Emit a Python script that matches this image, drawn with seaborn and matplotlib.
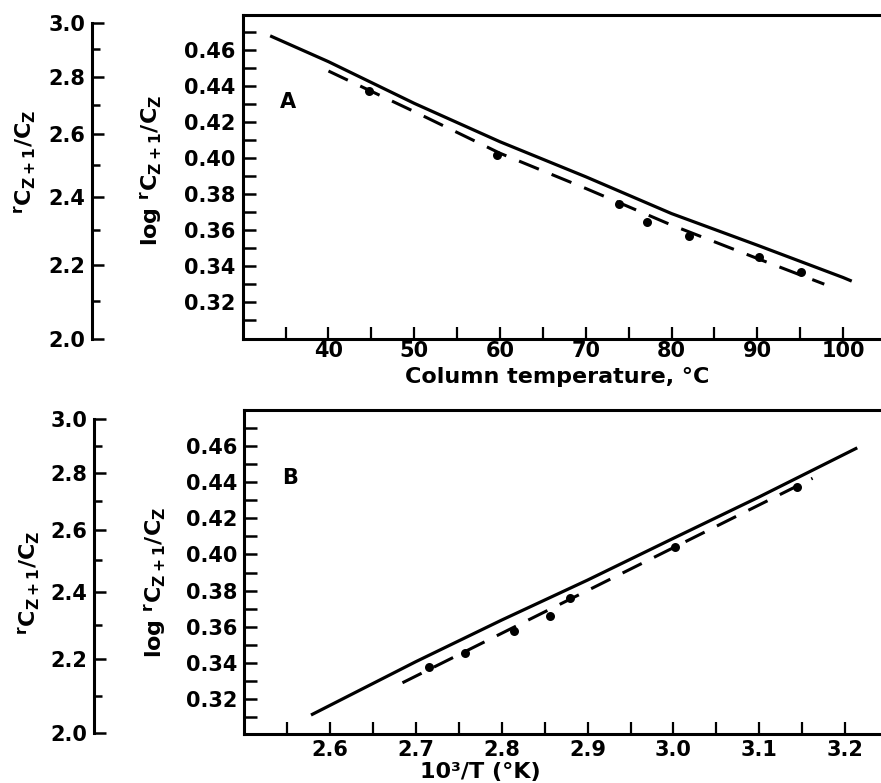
import matplotlib
matplotlib.use("Agg")
import matplotlib.pyplot as plt
from matplotlib.ticker import FixedLocator, FormatStrFormatter, NullFormatter
import seaborn as sns

# ---- Panel A: log r versus column temperature (deg C) ----
temp_curve = [33.2, 40, 50, 60, 70, 80, 90, 100, 101.0]
log_r_curve_a = [0.468, 0.4536, 0.4304, 0.409, 0.3895, 0.369, 0.3514, 0.3334, 0.3314]
temp_fit = [40.0, 50, 60, 70, 80, 90, 97.8]
log_r_fit_a = [0.4484, 0.4258, 0.4026, 0.383, 0.3626, 0.344, 0.3297]
temp_obs = [44.7, 59.7, 73.9, 77.1, 82.0, 90.2, 95.1]
log_r_obs_a = [0.4374, 0.4016, 0.3743, 0.3644, 0.3565, 0.3446, 0.3366]

# ---- Panel B: log r versus 10^3/T (K) ----
inv_t_curve = [2.578, 2.7, 2.8, 2.9, 3.0, 3.1, 3.214]
log_r_curve_b = [0.3109, 0.3405, 0.3636, 0.3858, 0.409, 0.432, 0.4592]
inv_t_fit = [2.6845, 3.162]
log_r_fit_b = [0.3288, 0.4423]
inv_t_obs = [2.7156, 2.7575, 2.8146, 2.8561, 2.8798, 3.002, 3.1433]
log_r_obs_b = [0.3377, 0.3451, 0.3575, 0.3658, 0.3757, 0.4043, 0.4373]

# ---- Axis ticks ----
log_major = [0.32, 0.34, 0.36, 0.38, 0.40, 0.42, 0.44, 0.46]
log_minor = [0.31, 0.33, 0.35, 0.37, 0.39, 0.41, 0.43, 0.45, 0.47]
r_major = [2.0, 2.2, 2.4, 2.6, 2.8, 3.0]
r_minor = [2.1, 2.3, 2.5, 2.7, 2.9]
temp_major = [40, 50, 60, 70, 80, 90, 100]
temp_minor = [35, 45, 55, 65, 75, 85, 95, 105]
inv_t_major = [2.6, 2.7, 2.8, 2.9, 3.0, 3.1, 3.2]
inv_t_minor = [2.55, 2.65, 2.75, 2.85, 2.95, 3.05, 3.15, 3.25]

ratio_label = r"${}^{r}C_{Z+1}/C_{Z}$"
log_ratio_label = r"log ${}^{r}C_{Z+1}/C_{Z}$"

TICK_FS = 15
LABEL_FS = 16

sns.set_theme(style="ticks")
plt.rcParams.update({
    "font.family": ["DejaVu Sans"],
    "font.weight": "bold",
    "font.size": TICK_FS,
    "text.color": "black",
    "axes.labelcolor": "black",
    "axes.labelweight": "bold",
    "xtick.color": "black",
    "ytick.color": "black",
    "mathtext.fontset": "custom",
    "mathtext.rm": "DejaVu Sans:bold",
    "mathtext.it": "DejaVu Sans:bold",
    "mathtext.bf": "DejaVu Sans:bold",
    "mathtext.default": "rm",
    "axes.linewidth": 2.2,
})

W, H = 881, 783
fig = plt.figure(figsize=(W / 100, H / 100), dpi=100)
fig.patch.set_facecolor("white")


def frac_box(left, top, width, height):
    """Axes rectangle from pixel geometry measured from the top-left corner."""
    return [left / W, (H - top - height) / H, width / W, height / H]


def inches(xpx, ypx):
    return xpx / 100, (H - ypx) / 100


def style_main(ax, xlim, ylim, xmaj, xmin, xfmt, xpad):
    ax.set_xlim(*xlim)
    ax.set_ylim(*ylim)
    ax.set_facecolor("white")
    ax.spines["right"].set_visible(False)
    for s in ("left", "bottom", "top"):
        ax.spines[s].set_linewidth(2.2)
        ax.spines[s].set_color("black")
    ax.yaxis.set_major_locator(FixedLocator(log_major))
    ax.yaxis.set_minor_locator(FixedLocator(log_minor))
    ax.yaxis.set_major_formatter(FormatStrFormatter("%.2f"))
    ax.yaxis.set_minor_formatter(NullFormatter())
    ax.xaxis.set_major_locator(FixedLocator(xmaj))
    ax.xaxis.set_minor_locator(FixedLocator(xmin))
    ax.xaxis.set_major_formatter(FormatStrFormatter(xfmt))
    ax.xaxis.set_minor_formatter(NullFormatter())
    ax.tick_params(axis="y", which="both", direction="in", length=9.5,
                   width=1.8, pad=5.0, colors="black", labelsize=TICK_FS)
    ax.tick_params(axis="x", which="both", direction="in", length=9,
                   width=1.6, pad=xpad, colors="black", labelsize=TICK_FS)
    ax.tick_params(top=False, right=False, which="both")
    ax.grid(False)


def style_ratio(ax):
    ax.set_yscale("log")
    ax.set_ylim(2.0, 3.0)
    ax.patch.set_visible(False)
    for s in ("right", "bottom", "top"):
        ax.spines[s].set_visible(False)
    ax.spines["left"].set_linewidth(2.2)
    ax.spines["left"].set_color("black")
    ax.xaxis.set_visible(False)
    ax.yaxis.set_major_locator(FixedLocator(r_major))
    ax.yaxis.set_minor_locator(FixedLocator(r_minor))
    ax.yaxis.set_major_formatter(FormatStrFormatter("%.1f"))
    ax.yaxis.set_minor_formatter(NullFormatter())
    ax.tick_params(axis="y", which="major", direction="in", length=8.6,
                   width=1.8, pad=5.0, colors="black", labelsize=TICK_FS)
    ax.tick_params(axis="y", which="minor", direction="in", length=5.5,
                   width=1.8, colors="black")


def draw_series(ax, xc, yc, xf, yf, xo, yo):
    sns.lineplot(x=xc, y=yc, ax=ax, color="black", lw=2.3, sort=False,
                 estimator=None, solid_capstyle="butt")
    sns.lineplot(x=xf, y=yf, ax=ax, color="black", lw=2.2, sort=False,
                 estimator=None, linestyle=(0, (7, 4.5)), dash_capstyle="butt")
    sns.scatterplot(x=xo, y=yo, ax=ax, color="black", s=42, linewidth=0,
                    zorder=3)


# ---------------- Panel A ----------------
ax_a = fig.add_axes(frac_box(242.7, 15, 80 * 8.578, 324.3))
draw_series(ax_a, temp_curve, log_r_curve_a, temp_fit, log_r_fit_a,
            temp_obs, log_r_obs_a)
style_main(ax_a, (30, 110), (0.299, 0.4796), temp_major, temp_minor, "%d", 1.5)
ax_a.text(35.3, 0.4311, "A", ha="center", va="center", fontsize=TICK_FS,
          fontweight="bold", color="black")
ax_a.set_ylabel(log_ratio_label, fontsize=LABEL_FS, fontweight="bold",
                va="center")
ax_a.yaxis.set_label_coords(*inches(152, 170), transform=fig.dpi_scale_trans)
ax_a.set_xlabel("Column temperature, °C", fontsize=LABEL_FS,
                fontweight="bold", va="center")
ax_a.xaxis.set_label_coords(*inches(557, 377), transform=fig.dpi_scale_trans)

ax_ra = fig.add_axes(frac_box(92.3, 22.7, 1, 316.6))
style_ratio(ax_ra)
ax_ra.set_ylabel(ratio_label, fontsize=LABEL_FS, fontweight="bold",
                 va="center")
ax_ra.yaxis.set_label_coords(*inches(25, 162), transform=fig.dpi_scale_trans)

# ---------------- Panel B ----------------
ax_b = fig.add_axes(frac_box(244.0, 410, 0.8 * 858.9, 324.3))
draw_series(ax_b, inv_t_curve, log_r_curve_b, inv_t_fit, log_r_fit_b,
            inv_t_obs, log_r_obs_b)
style_main(ax_b, (2.5, 3.3), (0.3002, 0.4802), inv_t_major, inv_t_minor,
           "%.1f", 4.0)
ax_b.text(2.5536, 0.4425, "B", ha="center", va="center", fontsize=TICK_FS,
          fontweight="bold", color="black")
ax_b.set_ylabel(log_ratio_label, fontsize=LABEL_FS, fontweight="bold",
                va="center")
ax_b.yaxis.set_label_coords(*inches(156, 582), transform=fig.dpi_scale_trans)
ax_b.set_xlabel("10³/T (°K)", fontsize=LABEL_FS, fontweight="bold",
                va="center")
ax_b.xaxis.set_label_coords(*inches(480, 772), transform=fig.dpi_scale_trans)

ax_rb = fig.add_axes(frac_box(94.3, 419.3, 1, 314))
style_ratio(ax_rb)
ax_rb.set_ylabel(ratio_label, fontsize=LABEL_FS, fontweight="bold",
                 va="center")
ax_rb.yaxis.set_label_coords(*inches(29, 583), transform=fig.dpi_scale_trans)

fig.savefig("out.png", dpi=100, facecolor="white")
